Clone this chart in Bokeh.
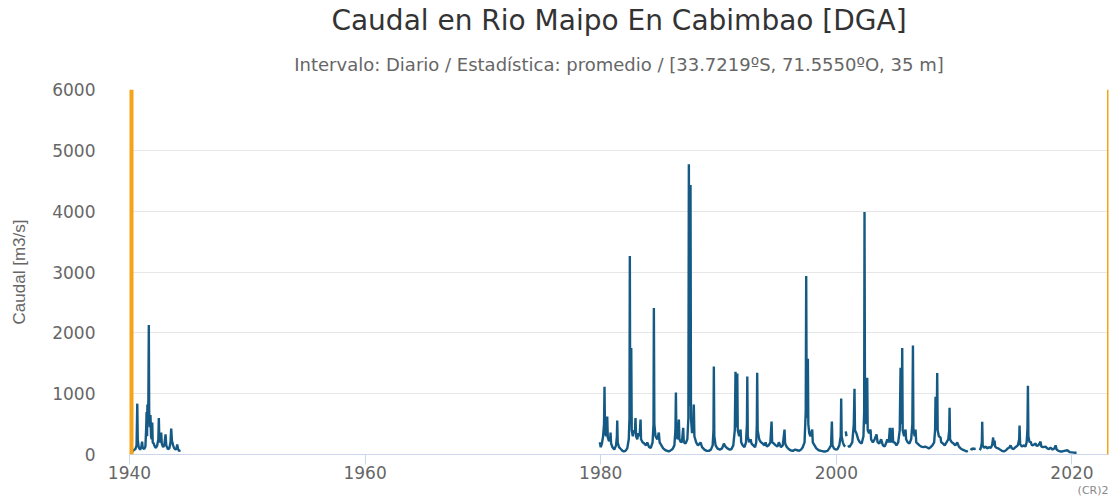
import numpy as np
from bokeh.plotting import figure
from bokeh.models import Range1d, FixedTicker, Span, Title
from bokeh.embed import file_html
from bokeh.resources import INLINE

TITLE = "Caudal en Rio Maipo En Cabimbao [DGA]"
SUBTITLE = "Intervalo: Diario / Estadística: promedio / [33.7219ºS, 71.5550ºO, 35 m]"
Y_LABEL = "Caudal [m3/s]"
CREDIT = "(CR)2"
X_TICKS = [1940, 1960, 1980, 2000, 2020]
Y_TICKS = [0, 1000, 2000, 3000, 4000, 5000, 6000]

# --- series (decimal year, m3/s) ---
yr_1940s = [1940.05, 1940.2, 1940.35, 1940.5, 1940.6, 1940.66, 1940.70, 1940.78, 1940.9, 1941.0,
            1941.07, 1941.12, 1941.25, 1941.35, 1941.42, 1941.45, 1941.49, 1941.52, 1941.56, 1941.60,
            1941.64, 1941.67, 1941.72, 1941.78, 1941.83, 1941.88, 1941.93, 1941.97, 1942.05, 1942.15,
            1942.25, 1942.35, 1942.45, 1942.49, 1942.53, 1942.6, 1942.69, 1942.74, 1942.85, 1942.95,
            1943.06, 1943.12, 1943.25, 1943.38, 1943.48, 1943.54, 1943.6, 1943.7, 1943.8, 1943.92,
            1944.0, 1944.05, 1944.12, 1944.2, 1944.33]
q_1940s = [50, 40, 70, 90, 150, 836, 250, 120, 80, 120,
           210, 110, 90, 130, 450, 700, 300, 820, 600, 850,
           2130, 700, 450, 650, 300, 250, 525, 200, 180, 130,
           110, 150, 250, 600, 250, 200, 360, 180, 120, 150,
           330, 150, 90, 100, 200, 425, 230, 150, 100, 80,
           110, 165, 90, 60, 70]

yr_1980s = [1979.92, 1980.0, 1980.1, 1980.2, 1980.28, 1980.32, 1980.36, 1980.45, 1980.52, 1980.55,
            1980.6, 1980.7, 1980.8, 1980.83, 1980.88, 1981.0, 1981.15, 1981.3, 1981.37, 1981.40,
            1981.44, 1981.55, 1981.7, 1981.85, 1981.96, 1982.1, 1982.25, 1982.38, 1982.44, 1982.47,
            1982.5, 1982.56, 1982.59, 1982.63, 1982.72, 1982.82, 1982.9, 1982.95, 1983.0, 1983.1,
            1983.2, 1983.3, 1983.38, 1983.42, 1983.55, 1983.7, 1983.85, 1983.95, 1984.1, 1984.25,
            1984.4, 1984.48, 1984.51, 1984.55, 1984.65, 1984.8, 1984.93, 1985.0, 1985.15, 1985.3,
            1985.5, 1985.65, 1985.78, 1985.95, 1986.1, 1986.25, 1986.34, 1986.38, 1986.42, 1986.55,
            1986.63, 1986.68, 1986.8, 1986.9, 1987.0, 1987.05, 1987.2, 1987.35, 1987.44, 1987.48,
            1987.52, 1987.58, 1987.62, 1987.66, 1987.75, 1987.85, 1987.9, 1987.95, 1988.1, 1988.25,
            1988.4, 1988.47, 1988.6, 1988.8, 1989.0, 1989.18, 1989.35, 1989.5, 1989.57, 1989.60,
            1989.64, 1989.75, 1989.9]
q_1980s = [200, 120, 180, 300, 500, 1115, 400, 300, 500, 625,
           280, 220, 250, 360, 180, 120, 80, 150, 300, 560,
           200, 120, 90, 60, 50, 60, 100, 250, 600, 3265,
           900, 500, 1750, 400, 300, 400, 350, 600, 300, 250,
           350, 300, 575, 250, 200, 180, 150, 200, 120, 110,
           200, 500, 2410, 500, 300, 250, 360, 200, 150, 100,
           70, 60, 50, 70, 90, 150, 400, 1020, 300, 250,
           575, 250, 200, 220, 440, 200, 180, 250, 600, 4770,
           1000, 800, 4430, 600, 350, 500, 820, 300, 200, 150,
           180, 200, 120, 80, 60, 60, 80, 150, 400, 1445,
           300, 150, 100]

yr_1990s = [1990.1, 1990.3, 1990.45, 1990.59, 1990.75, 1990.95, 1991.1, 1991.25, 1991.38, 1991.44,
            1991.48, 1991.54, 1991.59, 1991.63, 1991.75, 1991.87, 1991.92, 1992.05, 1992.2, 1992.33,
            1992.41, 1992.44, 1992.48, 1992.6, 1992.72, 1992.8, 1992.95, 1993.1, 1993.2, 1993.25,
            1993.28, 1993.32, 1993.45, 1993.6, 1993.75, 1993.9, 1993.99, 1994.1, 1994.25, 1994.4,
            1994.5, 1994.55, 1994.7, 1994.85, 1995.0, 1995.12, 1995.3, 1995.45, 1995.6, 1995.65,
            1995.8, 1995.95, 1996.1, 1996.3, 1996.5, 1996.68, 1996.85, 1997.0, 1997.15, 1997.3,
            1997.4, 1997.44, 1997.48, 1997.54, 1997.58, 1997.62, 1997.7, 1997.8, 1997.95, 1998.0,
            1998.15, 1998.3, 1998.5, 1998.7, 1998.9, 1999.08, 1999.25, 1999.4, 1999.55, 1999.62,
            1999.67, 1999.8, 1999.95, 2000.1, 2000.25, 2000.37, 2000.41, 2000.45, 2000.55, 2000.65,
            2000.75]
q_1990s = [80, 100, 180, 130, 100, 80, 90, 150, 400, 1360,
           500, 450, 1330, 400, 300, 410, 200, 150, 120, 200,
           500, 1280, 300, 200, 250, 180, 150, 120, 200, 500,
           1345, 400, 250, 200, 180, 150, 200, 130, 150, 200,
           540, 200, 180, 150, 130, 200, 120, 150, 410, 180,
           120, 90, 70, 60, 80, 70, 60, 80, 120, 200,
           700, 2935, 800, 600, 1575, 500, 350, 300, 410, 200,
           150, 100, 70, 60, 50, 50, 60, 100, 150, 540,
           150, 100, 80, 90, 150, 300, 920, 300, 200, 150,
           130]

yr_2000a = [2000.8, 2000.86]
q_2000a = [380, 300]

yr_2000s = [2001.0, 2001.1, 2001.2, 2001.35, 2001.48, 2001.54, 2001.58, 2001.7, 2001.85, 2002.0,
            2002.15, 2002.3, 2002.36, 2002.39, 2002.43, 2002.55, 2002.62, 2002.66, 2002.78, 2002.9,
            2002.95, 2003.1, 2003.25, 2003.41, 2003.5, 2003.65, 2003.8, 2003.95, 2004.1, 2004.25,
            2004.32, 2004.45, 2004.54, 2004.6, 2004.7, 2004.77, 2004.82, 2004.95, 2005.1, 2005.25,
            2005.38, 2005.45, 2005.5, 2005.55, 2005.59, 2005.63, 2005.75, 2005.87, 2005.92, 2006.05,
            2006.2, 2006.35, 2006.45, 2006.5, 2006.54, 2006.65, 2006.72, 2006.78, 2006.9, 2007.05,
            2007.2, 2007.4, 2007.55, 2007.71, 2007.85, 2008.0, 2008.15, 2008.3, 2008.38, 2008.42,
            2008.46, 2008.52, 2008.56, 2008.6, 2008.7, 2008.84, 2008.9, 2009.05, 2009.2, 2009.35,
            2009.5, 2009.58, 2009.61, 2009.65, 2009.8, 2009.95, 2010.1, 2010.26, 2010.4, 2010.55,
            2010.7, 2010.85, 2011.05, 2011.16]
q_2000s = [150, 120, 150, 200, 500, 1080, 400, 350, 250, 200,
           180, 300, 700, 3985, 800, 500, 1260, 400, 350, 410,
           250, 200, 250, 330, 200, 180, 250, 150, 130, 200,
           250, 200, 440, 200, 250, 440, 200, 200, 150, 200,
           400, 1425, 500, 600, 1750, 400, 300, 410, 250, 200,
           180, 250, 500, 1790, 400, 300, 410, 200, 180, 150,
           130, 120, 130, 115, 100, 120, 150, 200, 400, 950,
           400, 500, 1340, 400, 300, 280, 200, 180, 150, 200,
           250, 400, 770, 250, 200, 180, 150, 200, 130, 100,
           80, 70, 50, 60]

yr_2011 = [2011.39, 2011.5, 2011.6, 2011.7, 2011.82]
q_2011 = [100, 80, 100, 90, 100]

yr_2010s = [2012.18, 2012.28, 2012.35, 2012.38, 2012.42, 2012.55, 2012.7, 2012.8, 2012.95, 2013.1,
            2013.22, 2013.31, 2013.36, 2013.43, 2013.48, 2013.6, 2013.75, 2013.9, 2014.05, 2014.22,
            2014.4, 2014.55, 2014.7, 2014.79, 2014.9, 2015.05, 2015.2, 2015.4, 2015.52, 2015.55,
            2015.6, 2015.75, 2015.92, 2016.05, 2016.15, 2016.22, 2016.26, 2016.3, 2016.4, 2016.49,
            2016.6, 2016.75, 2016.91, 2017.0, 2017.15, 2017.33, 2017.4, 2017.55, 2017.76, 2017.9,
            2018.05, 2018.18, 2018.35, 2018.5, 2018.61, 2018.7, 2018.85, 2019.0, 2019.18, 2019.35,
            2019.6, 2019.8, 2020.0, 2020.2, 2020.39]
q_2010s = [70, 120, 200, 540, 150, 110, 130, 100, 120, 110,
           150, 280, 150, 230, 130, 110, 100, 80, 60, 50,
           70, 100, 120, 150, 100, 90, 120, 150, 250, 475,
           170, 130, 150, 130, 200, 400, 1130, 300, 200, 210,
           150, 160, 180, 140, 150, 210, 130, 120, 130, 100,
           90, 115, 80, 100, 150, 80, 60, 50, 50, 60,
           70, 40, 35, 30, 30]

# continuous runs of record; NaN between runs marks the data gaps
runs = [
    (yr_1940s, q_1940s),
    (yr_1980s + yr_1990s, q_1980s + q_1990s),
    (yr_2000a, q_2000a),
    (yr_2000s, q_2000s),
    (yr_2011, q_2011),
    (yr_2010s, q_2010s),
]
xs, ys = [], []
for sx, sy in runs:
    if xs:
        xs.append(np.nan)
        ys.append(np.nan)
    xs.extend(sx)
    ys.extend(sy)
xs = np.array(xs, dtype=float)
ys = np.array(ys, dtype=float)

W, H = 1110, 496
BL, BR, BT, BB = 129, 2, 89, 41
X_START = 1940
X_END = 2023.1

p = figure(width=W, height=H, output_backend="svg", toolbar_location=None,
           x_range=Range1d(X_START, X_END), y_range=Range1d(0, 6000),
           min_border_left=BL, min_border_right=BR, min_border_top=BT, min_border_bottom=BB)

p.add_layout(Title(text=SUBTITLE, align="center", text_font_size="18px", text_color="#666666",
                   text_font_style="normal", text_font="DejaVu Sans", standoff=29), "above")
p.add_layout(Title(text=TITLE, align="center", text_font_size="28px", text_color="#333333",
                   text_font_style="normal", text_font="DejaVu Sans", standoff=1), "above")
p.add_layout(Title(text=CREDIT, align="right", text_font_size="11px", text_color="#888888",
                   text_font_style="normal", text_font="DejaVu Sans", standoff=0), "below")

p.line(xs, ys, line_color="#145a84", line_width=2.4)

p.add_layout(Span(location=X_START, dimension="height", line_color="#f5a31a", line_width=8))
p.add_layout(Span(location=X_END, dimension="height", line_color="#f5a31a", line_width=3))

p.outline_line_color = None
p.xgrid.grid_line_color = None
p.ygrid.grid_line_color = "#e6e6e6"
p.ygrid.ticker = FixedTicker(ticks=Y_TICKS)

p.xaxis.ticker = FixedTicker(ticks=X_TICKS)
p.xaxis.axis_line_color = "#ccd6eb"
p.xaxis.major_tick_line_color = "#ccd6eb"
p.xaxis.major_tick_out = 10
p.xaxis.major_tick_in = 0
p.xaxis.minor_tick_line_color = None
p.xaxis.major_label_standoff = 1
p.xaxis.major_label_text_font = "DejaVu Sans"
p.xaxis.major_label_text_font_size = "17px"
p.xaxis.major_label_text_color = "#666666"

p.yaxis.ticker = FixedTicker(ticks=Y_TICKS)
p.yaxis.axis_line_color = None
p.yaxis.major_tick_line_color = None
p.yaxis.minor_tick_line_color = None
p.yaxis.major_label_standoff = 28
p.yaxis.major_label_text_font = "DejaVu Sans"
p.yaxis.major_label_text_font_size = "17px"
p.yaxis.major_label_text_color = "#666666"
p.yaxis.axis_label = Y_LABEL
p.yaxis.axis_label_text_font = "Liberation Sans"
p.yaxis.axis_label_text_font_size = "17px"
p.yaxis.axis_label_text_font_style = "normal"
p.yaxis.axis_label_text_color = "#666666"
p.yaxis.axis_label_standoff = 20

open("out.html", "w").write(file_html(p, INLINE))
